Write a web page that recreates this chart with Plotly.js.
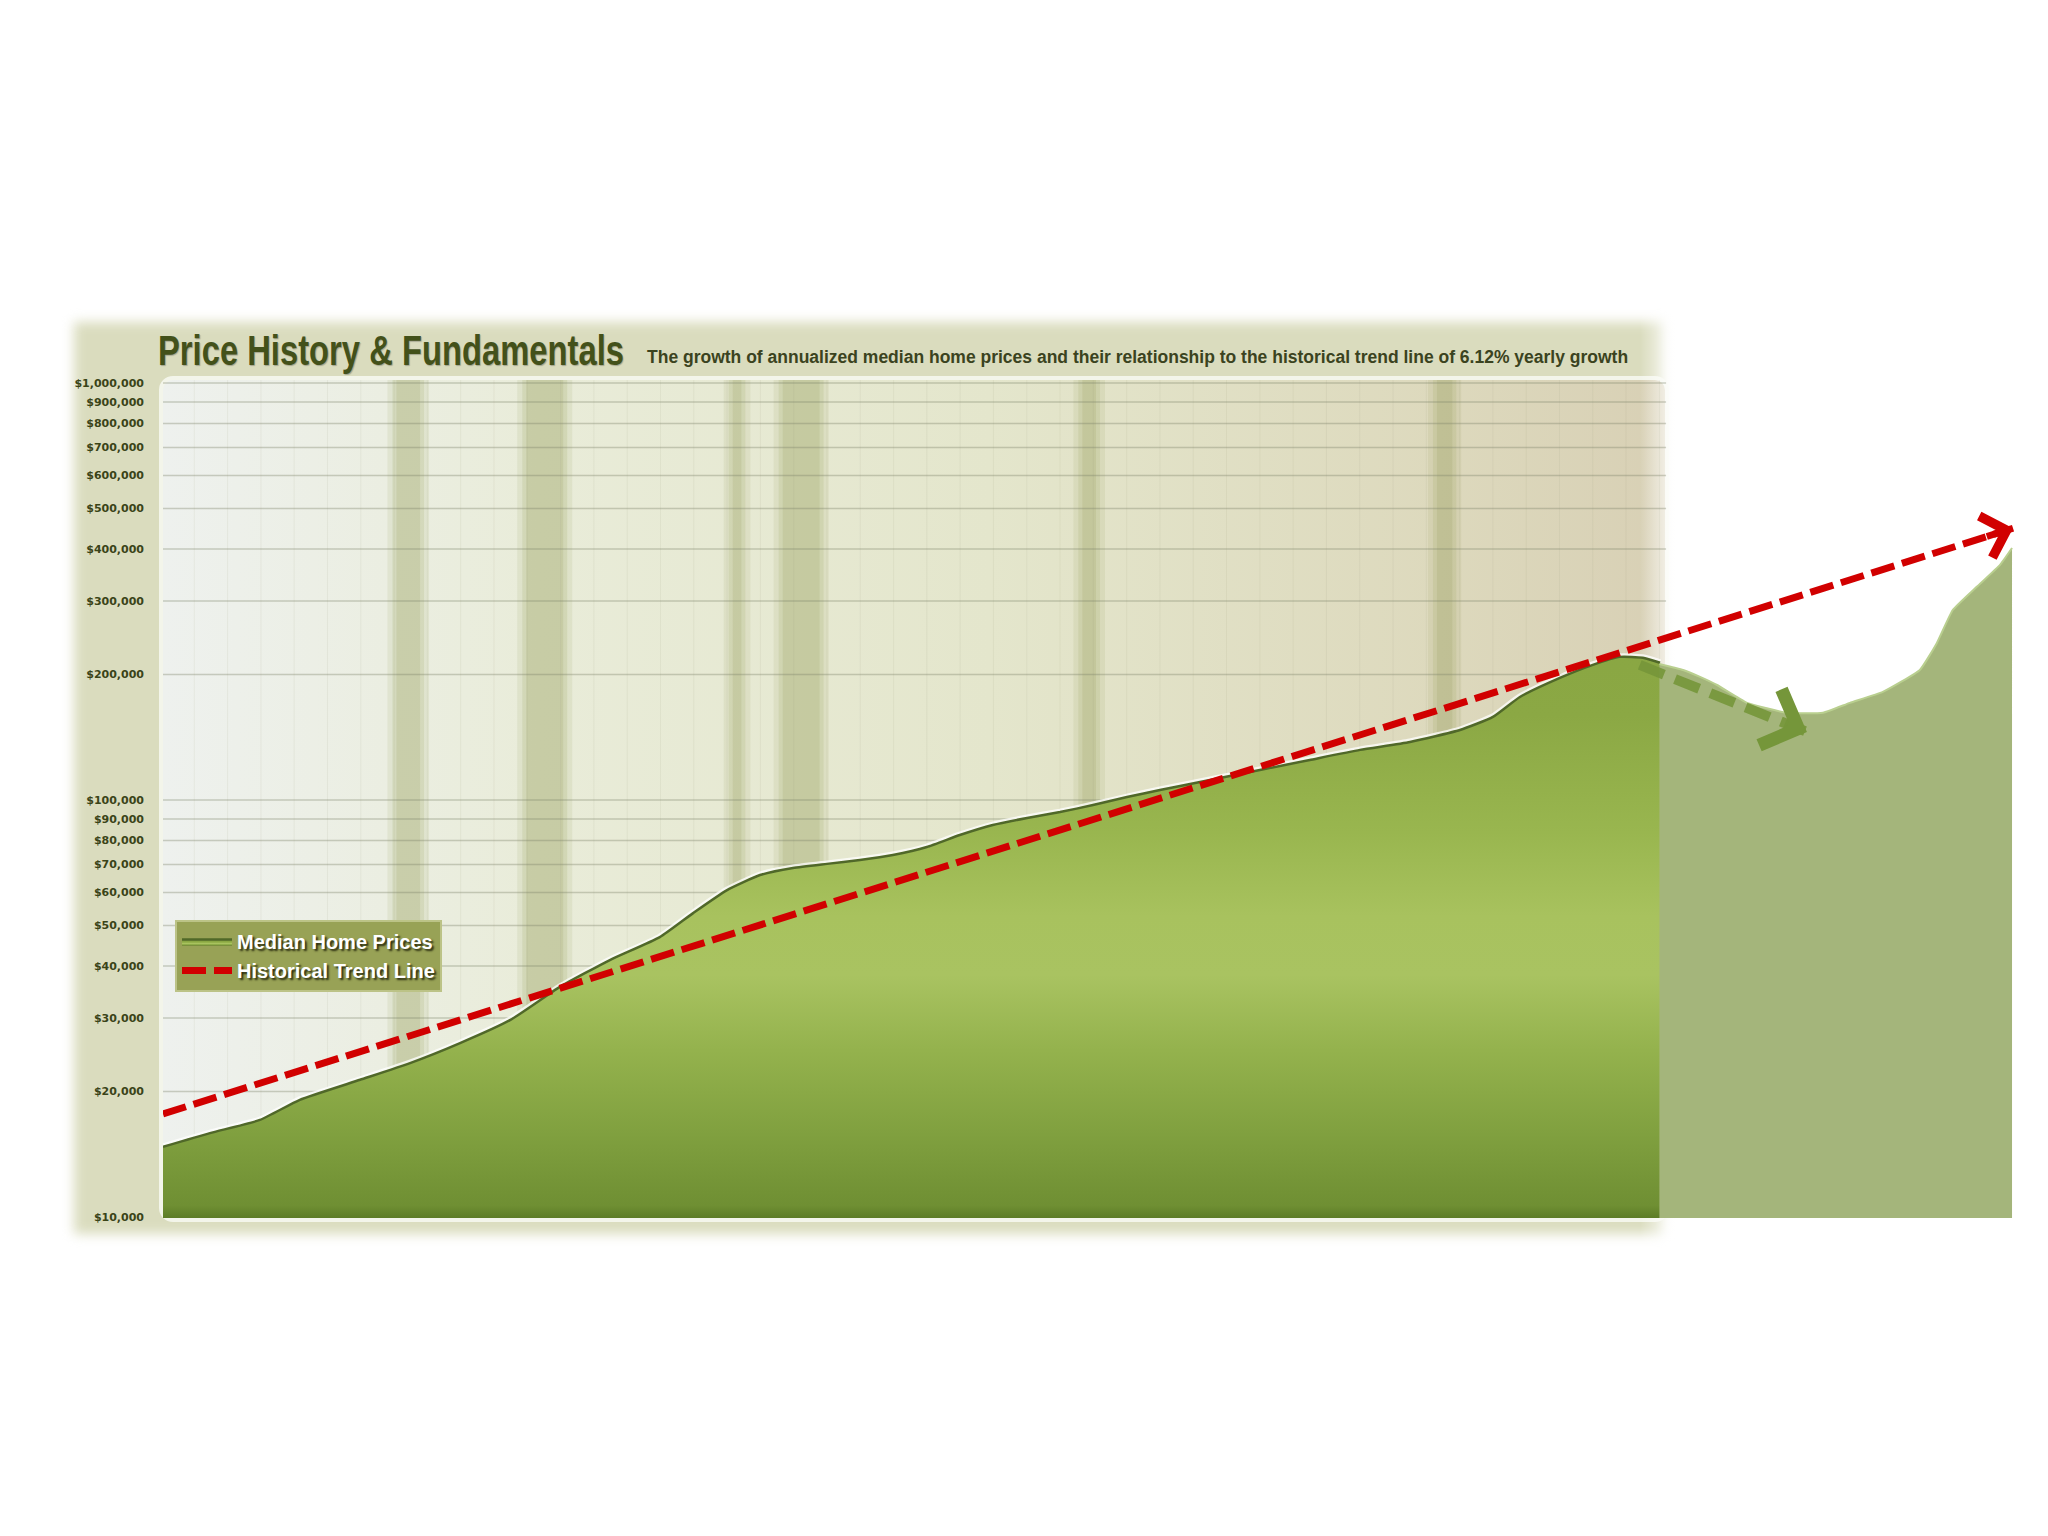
<!DOCTYPE html>
<html>
<head>
<meta charset="utf-8">
<script src="https://cdn.plot.ly/plotly-3.0.1.min.js"></script>
<style>
  html, body { margin: 0; padding: 0; background: #ffffff; }
  #wrap { position: relative; width: 2048px; height: 1536px; overflow: hidden; background: #ffffff; }
  #panel { position: absolute; left: 74px; top: 322px; width: 1590px; height: 912px;
           background: #dadcbe; filter: blur(6px); }
  #inner { position: absolute; left: 159px; top: 376px; width: 1510px; height: 846px;
           box-sizing: border-box; border: 4px solid #f3f5ea; border-radius: 14px;
           background: linear-gradient(to right, #eef1ee 0%, #e9ecd9 25%, #e4e6cc 55%, #ddd9bd 85%, #d8d0b5 100%); }
  #fade { position: absolute; left: 1640px; top: 300px; width: 40px; height: 950px;
          background: linear-gradient(to right, rgba(255,255,255,0) 0%, rgba(255,255,255,1) 100%); }
  #chart { position: absolute; left: 0; top: 0; width: 2048px; height: 1536px; }
  #chart .gtitle { transform: scaleX(0.78); transform-box: fill-box; transform-origin: 0% 50%; }
</style>
</head>
<body>
<div id="wrap">
  <div id="panel"></div>
  <div id="inner"></div>
  <div id="fade"></div>
  <div id="chart"></div>
</div>
<script>
// ---------- data ----------
const years = [1963.06, 1964.47, 1965.97, 1967.17, 1968.98, 1970.48, 1971.98, 1973.48, 1974.98, 1976.48,
               1977.98, 1978.98, 1980.00, 1980.99, 1981.98, 1983.00, 1983.99, 1984.98, 1986.00, 1986.99,
               1987.98, 1989.01, 1990.00, 1990.99, 1992.01, 1993.00, 1994.50, 1996.00, 1997.50, 1999.01,
               2000.51, 2002.01, 2003.00, 2003.81, 2005.01, 2006.00, 2006.81, 2007.50, 2008.02];
const medianPrices = [14730, 15890, 17090, 19100, 21330, 23390, 26120, 29650, 35620, 41320,
                      46890, 53550, 60800, 66070, 68680, 70280, 71800, 73820, 77130, 82400,
                      87090, 90550, 93550, 97260, 101640, 105650, 111670, 118040, 124770, 131880,
                      137800, 147200, 158200, 176600, 196200, 210900, 220400, 219400, 213400];

// hand-drawn continuation after the original chart
const laterYears = [2008.00, 2008.71, 2009.22, 2009.73, 2010.63, 2011.83, 2012.91, 2013.72, 2014.71,
                    2015.82, 2016.33, 2016.81, 2017.53, 2018.23, 2018.59];
const laterPrices = [212000, 205000, 197300, 188700, 171000, 161900, 161900, 171000, 181600,
                     205000, 237700, 285500, 324500, 366300, 402000];

// historical trend line (6.12% yearly growth), extended with an arrow
const trendYears = [1963.06, 2018.62];
const trendValues = [17660, 448500];

// green dashed projection arrow
const projYears = [2007.41, 2012.43];
const projValues = [210800, 145600];

// recession bands
const recessionStart = [1969.95, 1973.85, 1980.05, 1981.55, 1990.55, 2001.20];
const recessionEnd   = [1970.90, 1975.20, 1980.55, 1982.90, 1991.20, 2001.90];

// y-axis ticks
const tickValues = [10000, 20000, 30000, 40000, 50000, 60000, 70000, 80000, 90000, 100000,
                    200000, 300000, 400000, 500000, 600000, 700000, 800000, 900000, 1000000];
const tickLabels = ['$10,000', '$20,000', '$30,000', '$40,000', '$50,000', '$60,000', '$70,000', '$80,000', '$90,000', '$100,000',
                    '$200,000', '$300,000', '$400,000', '$500,000', '$600,000', '$700,000', '$800,000', '$900,000', '$1,000,000'];

const titleText = 'Price History & Fundamentals';
const subtitleText = 'The growth of annualized median home prices and their relationship to the historical trend line of 6.12% yearly growth';

// ---------- layout constants ----------
const xRange = [1963.06, 2019.43];
const chartEnd = 2008.2;
const yRange = [3.9976, 6.0072];

const shapes = [];
// recession bands (soft edges)
recessionStart.forEach((s, i) => {
  const e = recessionEnd[i];
  shapes.push({type: 'rect', xref: 'x', yref: 'paper', x0: s - 0.15, x1: e + 0.15, y0: 0, y1: 1,
               fillcolor: 'rgba(150,160,90,0.12)', line: {width: 0}, layer: 'below'});
  shapes.push({type: 'rect', xref: 'x', yref: 'paper', x0: s, x1: e, y0: 0, y1: 1,
               fillcolor: 'rgba(150,160,90,0.16)', line: {width: 0}, layer: 'below'});
  shapes.push({type: 'rect', xref: 'x', yref: 'paper', x0: s + 0.12, x1: e - 0.12, y0: 0, y1: 1,
               fillcolor: 'rgba(140,150,80,0.16)', line: {width: 0}, layer: 'below'});
});
// faint yearly vertical grid
for (let yr = Math.ceil(xRange[0]); yr < chartEnd; yr++) {
  shapes.push({type: 'line', xref: 'x', yref: 'paper', x0: yr, x1: yr, y0: 0, y1: 1,
               line: {color: 'rgba(150,150,115,0.10)', width: 1}, layer: 'below'});
}
// horizontal grid at the tick values
tickValues.forEach(v => {
  shapes.push({type: 'line', xref: 'x', yref: 'y', x0: xRange[0], x1: chartEnd, y0: v, y1: v,
               line: {color: 'rgba(125,130,105,0.36)', width: 1.5}, layer: 'below'});
});

const greenScale = [
  [0.00, '#5c7c26'], [0.015, '#6f8f33'], [0.10, '#80a03f'], [0.20, '#94b24d'],
  [0.29, '#a9c361'], [0.36, '#a8c25e'], [0.46, '#99b64f'], [0.60, '#8ba844'], [1.00, '#84a13e']
];

const traces = [
  {
    x: years, y: medianPrices, type: 'scatter', mode: 'lines', name: 'halo',
    line: {color: 'rgba(255,255,255,0.75)', width: 7, shape: 'spline', smoothing: 0.5},
    showlegend: false, hoverinfo: 'skip'
  },
  {
    x: years, y: medianPrices, type: 'scatter', mode: 'lines', name: 'Median Home Prices',
    fill: 'tozeroy', fillcolor: '#93b14a',
    fillgradient: {type: 'vertical', colorscale: greenScale,
                   start: Math.pow(10, yRange[0]), stop: Math.pow(10, yRange[1])},
    line: {color: '#506829', width: 2.5, shape: 'spline', smoothing: 0.5},
    hoverinfo: 'skip'
  },
  {
    x: laterYears, y: laterPrices, type: 'scatter', mode: 'lines', name: 'Later prices',
    fill: 'tozeroy', fillcolor: '#a4b57b',
    line: {color: '#b9cf8f', width: 2, shape: 'spline', smoothing: 0.4},
    showlegend: false, hoverinfo: 'skip'
  },
  {
    x: projYears, y: projValues, type: 'scatter', mode: 'lines', name: 'Projection',
    line: {color: 'rgba(117,150,58,0.9)', width: 10, dash: '26px,12px'},
    showlegend: false, hoverinfo: 'skip'
  },
  {
    x: trendYears, y: trendValues, type: 'scatter', mode: 'lines', name: 'Historical Trend Line',
    line: {color: '#d10000', width: 7, dash: '24px,8px'},
    hoverinfo: 'skip'
  }
];

function arrowHeadAnnotation(xs, ys, color, width, size, f) {
  const n = xs.length;
  const x1 = xs[n - 1], y1 = Math.log10(ys[n - 1]);
  const x0 = xs[n - 2], y0 = Math.log10(ys[n - 2]);
  return {
    x: x1, y: y1, xref: 'x', yref: 'y',
    ax: x0 + (x1 - x0) * f, ay: y0 + (y1 - y0) * f, axref: 'x', ayref: 'y',
    text: '', showarrow: true, arrowhead: 4, arrowsize: size, arrowwidth: width,
    arrowcolor: color, standoff: 0
  };
}

const annotations = [
  {
    text: subtitleText, xref: 'paper', yref: 'paper', x: (645 - 163) / 1877, y: 1 + (380 - 357) / 838,
    xanchor: 'left', yanchor: 'middle', showarrow: false,
    font: {family: 'Liberation Sans, Arial, sans-serif', size: 17.5, color: '#3b4320', weight: 'bold'}
  },
  arrowHeadAnnotation(trendYears, trendValues, '#d10000', 7, 1.2, 0.985),
  arrowHeadAnnotation(projYears, projValues, 'rgb(117,150,58)', 8, 1.45, 0.86)
];

const layout = {
  width: 2048, height: 1536,
  margin: {l: 163, r: 8, t: 380, b: 318, pad: 0},
  paper_bgcolor: 'rgba(0,0,0,0)', plot_bgcolor: 'rgba(0,0,0,0)',
  title: {
    text: titleText, xref: 'container', yref: 'container',
    x: 158 / 2048, xanchor: 'left', y: 1 - 350 / 1536, yanchor: 'middle',
    font: {family: 'Liberation Sans, Arial, sans-serif', size: 42, color: '#43511a', weight: 'bold',
           shadow: '1px 1px 1px rgba(0,0,0,0.25)'}
  },
  xaxis: {
    type: 'linear', range: xRange, showgrid: false, zeroline: false, showline: false,
    showticklabels: false, ticks: '', fixedrange: true
  },
  yaxis: {
    type: 'log', range: yRange, showgrid: false, zeroline: false, showline: false,
    tickmode: 'array', tickvals: tickValues, ticktext: tickLabels, ticks: '',
    ticklabelstandoff: 18,
    tickfont: {family: 'DejaVu Sans, sans-serif', size: 11, color: '#3a4418', weight: 'bold'},
    fixedrange: true
  },
  legend: {
    x: (175 - 163) / 1877, y: 1 - (920 - 380) / 838, xanchor: 'left', yanchor: 'top',
    bgcolor: '#98a256', bordercolor: '#bcc387', borderwidth: 2,
    font: {family: 'Liberation Sans, Arial, sans-serif', size: 20, color: '#ffffff',
           weight: 'bold', shadow: '2px 2px 2px #2b2d10'},
    itemwidth: 50, tracegroupgap: 0, traceorder: 'normal'
  },
  shapes: shapes,
  annotations: annotations,
  showlegend: true
};

Plotly.newPlot('chart', traces, layout, {displayModeBar: false, staticPlot: true});
</script>
</body>
</html>
